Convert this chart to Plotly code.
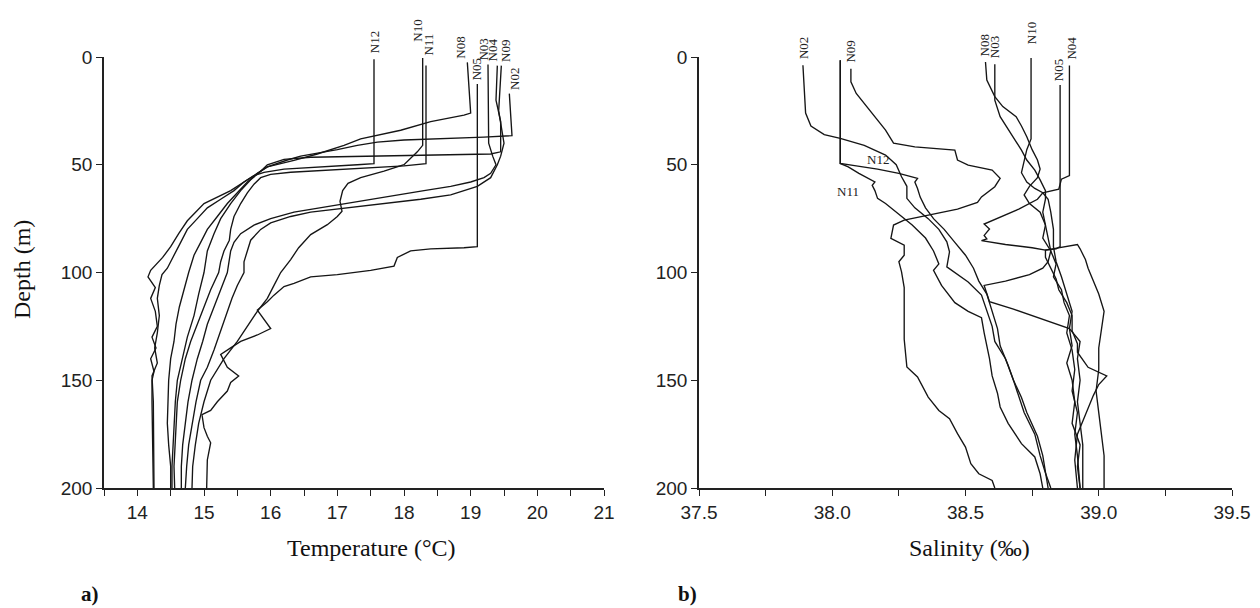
import plotly.graph_objects as go

# ---------------- Temperature profiles (depth m, temperature °C) ----------------
T_N02_D = [17, 36.5, 37.2, 37.8, 38.5, 39.5, 41, 43, 44.6, 46, 47.8, 51, 54, 58, 63, 68, 74, 80, 86, 92, 100, 108, 116, 124, 132, 140, 150, 160, 170, 180, 190, 200]
T_N02 = [19.58, 19.62, 19.2, 18.6, 18.0, 17.6, 17.3, 17.0, 16.7, 16.45, 16.25, 15.95, 15.8, 15.65, 15.5, 15.35, 15.2, 15.05, 14.95, 14.85, 14.77, 14.7, 14.63, 14.58, 14.55, 14.5, 14.47, 14.46, 14.45, 14.47, 14.5, 14.5]

T_N03_D = [3.5, 40, 46, 50, 54, 56, 58, 60, 62, 64, 66, 68, 70, 72, 75, 78, 82, 86, 90, 95, 100, 108, 116, 124, 132, 140, 150, 160, 170, 180, 190, 200]
T_N03 = [19.26, 19.27, 19.33, 19.38, 19.3, 19.2, 19.0, 18.7, 18.3, 17.9, 17.5, 17.1, 16.7, 16.35, 16.0, 15.75, 15.55, 15.45, 15.4, 15.37, 15.35, 15.25, 15.15, 15.05, 14.98, 14.9, 14.82, 14.76, 14.72, 14.68, 14.66, 14.66]

T_N04_D = [4, 20, 30, 44, 45, 45.5, 46, 46.5, 47.5, 50, 53, 57, 62, 68, 75, 82, 90, 100, 110, 120, 130, 140, 150, 160, 170, 180, 190, 200]
T_N04 = [19.4, 19.38, 19.45, 19.45, 19.3, 18.5, 17.5, 16.6, 16.2, 15.95, 15.85, 15.7, 15.55, 15.4, 15.25, 15.15, 15.05, 15.0, 14.92, 14.85, 14.75, 14.68, 14.6, 14.57, 14.55, 14.53, 14.52, 14.52]

T_N05_D = [12.5, 88, 88.5, 89, 90, 93, 97, 99, 101, 102, 105, 106.5, 110.5, 113.6, 117.5, 122, 126, 129, 132, 135, 138, 144, 148, 151, 155, 160, 164, 166, 172, 176, 179, 187, 200]
T_N05 = [19.1, 19.1, 18.9, 18.4, 18.1, 17.9, 17.85, 17.5, 17.0, 16.6, 16.35, 16.2, 16.05, 15.95, 15.8, 15.9, 16.0, 15.8, 15.55, 15.4, 15.25, 15.35, 15.52, 15.4, 15.35, 15.2, 15.1, 14.97, 15.0, 15.05, 15.1, 15.05, 15.04]

T_N08_D = [2.5, 26, 27, 30, 34, 38, 41, 45, 48, 51, 55, 62, 68, 76, 82, 88, 93, 99, 102, 107, 112, 118, 125, 130, 135, 140, 146, 150, 160, 175, 190, 200]
T_N08 = [18.95, 19.0, 18.9, 18.4, 17.95, 17.35, 17.1, 16.7, 16.35, 15.95, 15.75, 15.4, 15.0, 14.75, 14.62, 14.5, 14.38, 14.2, 14.16, 14.27, 14.2, 14.27, 14.3, 14.22, 14.28, 14.2, 14.25, 14.22, 14.22, 14.23, 14.24, 14.24]

T_N09_D = [4, 25, 40, 46, 50, 56, 60, 64, 66, 68, 70, 72, 74, 77, 80, 85, 90, 95, 100, 106, 112, 120, 128, 136, 144, 150, 160, 170, 180, 190, 200]
T_N09 = [19.46, 19.42, 19.5, 19.45, 19.4, 19.3, 19.1, 18.7, 18.25, 17.7, 17.1, 16.6, 16.3, 16.0, 15.85, 15.7, 15.65, 15.6, 15.6, 15.5, 15.42, 15.33, 15.25, 15.15, 15.05, 14.95, 14.88, 14.82, 14.77, 14.74, 14.72]

T_N10_D = [0.5, 41, 44, 47, 50, 53, 56, 58.6, 62, 67, 71.6, 74, 77.8, 82.4, 88.5, 94, 100, 106, 112, 118, 125, 132, 140, 150, 160, 170, 180, 190, 200]
T_N10 = [18.28, 18.28, 18.2, 18.1, 18.0, 17.7, 17.35, 17.16, 17.08, 17.04, 17.07, 17.0, 16.85, 16.6, 16.42, 16.3, 16.15, 16.05, 15.95, 15.8, 15.65, 15.5, 15.3, 15.1, 15.0, 14.92, 14.87, 14.83, 14.82]

T_N11_D = [4, 49.5, 50.5, 51.5, 52.5, 53.5, 54.5, 56, 59, 63, 68, 74, 80, 85, 90, 95, 100, 108, 116, 124, 132, 140, 150, 160, 170, 180, 190, 200]
T_N11 = [18.33, 18.33, 18.0, 17.4, 16.8, 16.3, 16.0, 15.85, 15.75, 15.65, 15.55, 15.45, 15.4, 15.38, 15.3, 15.25, 15.22, 15.1, 15.0, 14.9, 14.8, 14.72, 14.65, 14.6, 14.58, 14.56, 14.55, 14.56]

T_N12_D = [1, 49.5, 50, 51, 52, 53.5, 55, 58, 62, 66, 70, 75, 80, 86, 92, 98, 101, 106, 112, 120, 128, 135, 142, 148, 160, 180, 200]
T_N12 = [17.55, 17.55, 17.3, 16.7, 16.2, 15.9, 15.75, 15.6, 15.45, 15.25, 15.05, 14.9, 14.75, 14.65, 14.55, 14.45, 14.37, 14.33, 14.3, 14.33, 14.3, 14.26, 14.3, 14.22, 14.24, 14.25, 14.25]

# ---------------- Salinity profiles (depth m, salinity ‰) ----------------
S_N02_D = [3.8, 26, 32, 36, 37.8, 41, 45.5, 50, 55.6, 60, 65.6, 70, 75, 80, 85.8, 90.4, 97.4, 104.4, 110.5, 118, 125, 132, 140, 150, 158, 165, 176, 185, 193, 200]
S_N02 = [37.89, 37.9, 37.92, 37.97, 38.03, 38.12, 38.2, 38.24, 38.26, 38.28, 38.28, 38.31, 38.36, 38.4, 38.43, 38.44, 38.43, 38.51, 38.56, 38.58, 38.6, 38.61, 38.65, 38.68, 38.71, 38.73, 38.77, 38.79, 38.8, 38.81]

S_N03_D = [3.4, 20, 27.7, 35.4, 43.2, 47.8, 52.5, 57, 62, 66, 72, 78, 84, 90, 95, 98, 101, 104, 106, 110, 113.5, 117, 121, 126, 132, 140, 150, 160, 170, 180, 190, 200]
S_N03 = [38.61, 38.61, 38.63, 38.67, 38.71, 38.73, 38.76, 38.78, 38.8, 38.8, 38.79, 38.8, 38.81, 38.82, 38.81, 38.79, 38.74, 38.65, 38.57, 38.58, 38.59, 38.68, 38.77, 38.89, 38.93, 38.92, 38.93, 38.92, 38.93, 38.94, 38.94, 38.94]

S_N04_D = [4, 55, 56.7, 61.3, 63, 66, 70.6, 75, 77.5, 79.8, 82.8, 84.4, 85.2, 87, 88.5, 89.6, 88, 87, 89, 94, 98, 104, 110, 118, 126, 135, 145, 155, 165, 175, 185, 200]
S_N04 = [38.89, 38.89, 38.86, 38.85, 38.79, 38.77, 38.7, 38.62, 38.57, 38.59, 38.57, 38.58, 38.56, 38.65, 38.75, 38.8, 38.87, 38.92, 38.93, 38.95, 38.96, 38.98, 39.0, 39.02, 39.01, 39.0, 39.0, 38.99, 39.0, 39.01, 39.02, 39.02]

S_N05_D = [13, 88, 89, 89.6, 93, 98, 103, 108, 114, 120, 127, 133, 137, 144, 148, 152, 157, 166, 175, 187, 200]
S_N05 = [38.855, 38.855, 38.84, 38.8, 38.8, 38.82, 38.84, 38.85, 38.88, 38.9, 38.9, 38.92, 38.92, 38.96, 39.03, 39.0, 38.98, 38.95, 38.92, 38.91, 38.92]

S_N08_D = [2.3, 10.7, 18.4, 23, 27.7, 32, 37, 43, 47.8, 52, 56, 60, 64, 68, 72, 78, 84, 90, 96, 102, 108, 114, 120, 128, 136, 145, 155, 165, 175, 185, 200]
S_N08 = [38.575, 38.58, 38.61, 38.64, 38.69, 38.71, 38.73, 38.75, 38.77, 38.78, 38.77, 38.74, 38.72, 38.74, 38.78, 38.8, 38.79, 38.82, 38.84, 38.83, 38.86, 38.87, 38.89, 38.88, 38.9, 38.91, 38.9, 38.92, 38.91, 38.92, 38.93]

S_N09_D = [5.4, 11.5, 16.9, 24.6, 30.8, 33.9, 40, 41.7, 43.2, 47.8, 50.2, 52.5, 56.3, 60.2, 64.9, 67.5, 70.6, 73.6, 75.7, 78, 84.2, 87.3, 92, 95, 99.7, 107, 115, 123, 131, 143.8, 148.5, 157.8, 164, 167.8, 174.8, 181, 188.7, 193.4, 196.5, 200]
S_N09 = [38.07, 38.07, 38.09, 38.14, 38.18, 38.2, 38.23, 38.31, 38.46, 38.47, 38.51, 38.6, 38.63, 38.61, 38.56, 38.545, 38.47, 38.35, 38.27, 38.23, 38.22, 38.27, 38.27, 38.25, 38.26, 38.27, 38.27, 38.27, 38.27, 38.28, 38.32, 38.36, 38.4, 38.44, 38.47, 38.5, 38.52, 38.55, 38.6, 38.61]

S_N10_D = [0.5, 38, 43, 49, 53.7, 58, 61, 63, 66, 72, 80, 88, 95, 102, 110, 118, 126, 134, 142, 150, 160, 170, 180, 190, 200]
S_N10 = [38.746, 38.746, 38.73, 38.72, 38.71, 38.73, 38.76, 38.79, 38.81, 38.82, 38.83, 38.83, 38.84, 38.86, 38.88, 38.9, 38.89, 38.9, 38.88, 38.9, 38.91, 38.9, 38.93, 38.92, 38.93]

S_N11_D = [1.5, 49.4, 51, 54, 58, 59.5, 62, 65.6, 68, 72, 78, 84, 90, 96, 99, 106, 114, 118, 121, 128, 134, 140, 148, 156, 162.4, 170, 179.4, 185.6, 193.4, 200]
S_N11 = [38.03, 38.03, 38.06, 38.1, 38.16, 38.15, 38.16, 38.17, 38.2, 38.24, 38.3, 38.35, 38.38, 38.4, 38.38, 38.41, 38.46, 38.51, 38.56, 38.57, 38.58, 38.59, 38.6, 38.62, 38.63, 38.66, 38.71, 38.76, 38.78, 38.79]

S_N12_D = [1.5, 49.4, 50.5, 52, 54, 56.3, 58, 61, 65, 70, 75, 80, 86, 92, 98, 104, 110, 118, 126, 134, 143, 150, 158, 165, 175, 185, 193, 200]
S_N12 = [38.03, 38.03, 38.09, 38.17, 38.25, 38.32, 38.31, 38.32, 38.33, 38.35, 38.38, 38.42, 38.46, 38.5, 38.53, 38.55, 38.58, 38.6, 38.62, 38.63, 38.66, 38.68, 38.7, 38.72, 38.76, 38.78, 38.8, 38.82]

TEMP_TICKS = [14, 15, 16, 17, 18, 19, 20, 21]
SAL_TICKS = [37.5, 38.0, 38.5, 39.0, 39.5]
DEPTH_TICKS = [0, 50, 100, 150, 200]

temp_series = [
    ("N02", T_N02_D, T_N02), ("N03", T_N03_D, T_N03), ("N04", T_N04_D, T_N04),
    ("N05", T_N05_D, T_N05), ("N08", T_N08_D, T_N08), ("N09", T_N09_D, T_N09),
    ("N10", T_N10_D, T_N10), ("N11", T_N11_D, T_N11), ("N12", T_N12_D, T_N12),
]
sal_series = [
    ("N02", S_N02_D, S_N02), ("N03", S_N03_D, S_N03), ("N04", S_N04_D, S_N04),
    ("N05", S_N05_D, S_N05), ("N08", S_N08_D, S_N08), ("N09", S_N09_D, S_N09),
    ("N10", S_N10_D, S_N10), ("N11", S_N11_D, S_N11), ("N12", S_N12_D, S_N12),
]

# label pixel offsets (style only)
temp_label_shift = {"N02": (5, 2), "N03": (-4, 2), "N04": (-5, 2), "N05": (0, 2),
                    "N08": (-7, 2), "N09": (4, 2), "N10": (-6, 14), "N11": (3, 8), "N12": (0, 4)}
sal_label_shift = {"N02": (0, 4), "N03": (0, 4), "N04": (2, 4), "N05": (-2, 2),
                   "N08": (-1, 4), "N09": (0, 4), "N10": (0, 12)}

LINE = dict(color="#151515", width=1.35)
SERIF = "Liberation Serif, Times New Roman, serif"
SANS = "Liberation Sans Narrow, Liberation Sans, Arial, sans-serif"
LABEL_FONT = dict(family=SERIF, size=13, color="#222")

# page offset of the plot div (browser body margin), in px
OFF = 8
W, H = 1260, 608


def px_x(px):
    return (px - OFF) / W


def px_y(py):
    return 1 - (py - OFF) / H


fig = go.Figure()
annotations = []
for name, d, t in temp_series:
    fig.add_trace(go.Scatter(x=t, y=d, mode="lines", line=LINE, xaxis="x", yaxis="y",
                             showlegend=False, name=name))
    dx, dy = temp_label_shift[name]
    annotations.append(dict(x=t[0], y=d[0], xref="x", yref="y", text=name, textangle=-90,
                            showarrow=False, yanchor="bottom", xanchor="center",
                            xshift=dx, yshift=dy, font=LABEL_FONT))
for name, d, s in sal_series:
    fig.add_trace(go.Scatter(x=s, y=d, mode="lines", line=LINE, xaxis="x2", yaxis="y2",
                             showlegend=False, name=name))
    if name in sal_label_shift:
        dx, dy = sal_label_shift[name]
        annotations.append(dict(x=s[0], y=d[0], xref="x2", yref="y2", text=name, textangle=-90,
                                showarrow=False, yanchor="bottom", xanchor="center",
                                xshift=dx, yshift=dy, font=LABEL_FONT))

# inline labels for N12 / N11 in salinity panel
annotations.append(dict(x=S_N12[3], y=S_N12_D[0] + 46, xref="x2", yref="y2", text="N12",
                        showarrow=False, xanchor="center", yanchor="middle", font=LABEL_FONT))
annotations.append(dict(x=S_N11[2], y=S_N11_D[0] + 61, xref="x2", yref="y2", text="N11",
                        showarrow=False, xanchor="center", yanchor="middle", font=LABEL_FONT))

# titles
annotations += [
    dict(x=px_x(22), y=px_y(270), xref="paper", yref="paper", text="Depth (m)", textangle=-90,
         showarrow=False, xanchor="center", yanchor="middle",
         font=dict(family=SERIF, size=24, color="#111")),
    dict(x=px_x(372), y=px_y(548), xref="paper", yref="paper", text="Temperature (°C)",
         showarrow=False, xanchor="center", yanchor="middle",
         font=dict(family=SERIF, size=24, color="#111")),
    dict(x=px_x(970), y=px_y(548), xref="paper", yref="paper", text="Salinity (‰)",
         showarrow=False, xanchor="center", yanchor="middle",
         font=dict(family=SERIF, size=24, color="#111")),
    dict(x=px_x(90), y=px_y(594), xref="paper", yref="paper", text="<b>a)</b>",
         showarrow=False, xanchor="center", yanchor="middle",
         font=dict(family=SERIF, size=21, color="#111")),
    dict(x=px_x(687), y=px_y(594), xref="paper", yref="paper", text="<b>b)</b>",
         showarrow=False, xanchor="center", yanchor="middle",
         font=dict(family=SERIF, size=21, color="#111")),
]

axis_common = dict(showgrid=False, zeroline=False, showline=True, linecolor="#222", linewidth=1.6,
                   ticks="outside", tickcolor="#222", ticklen=6, tickwidth=1.4, automargin=False,
                   tickfont=dict(family=SANS, size=19, color="#222"))

Y_DOM = [px_y(488), px_y(57)]

fig.update_layout(
    width=W, height=H,
    margin=dict(l=0, r=0, t=0, b=0, autoexpand=False),
    paper_bgcolor="white", plot_bgcolor="white",
    xaxis=dict(domain=[px_x(104), px_x(604)], range=[13.5, 21], tickvals=TEMP_TICKS, anchor="y",
               minor=dict(dtick=0.5, tick0=13.5, ticks="outside", ticklen=6, tickcolor="#222"),
               **axis_common),
    yaxis=dict(domain=Y_DOM, range=[200, 0], tickvals=DEPTH_TICKS, anchor="x",
               **axis_common),
    xaxis2=dict(domain=[px_x(699), px_x(1232)], range=[37.5, 39.5], tickvals=SAL_TICKS,
                tickformat=".1f", anchor="y2",
                minor=dict(dtick=0.25, tick0=37.5, ticks="outside", ticklen=6, tickcolor="#222"),
                **axis_common),
    yaxis2=dict(domain=Y_DOM, range=[200, 0], tickvals=DEPTH_TICKS, anchor="x2",
                **axis_common),
    annotations=annotations,
)

fig.write_html("out.html")
